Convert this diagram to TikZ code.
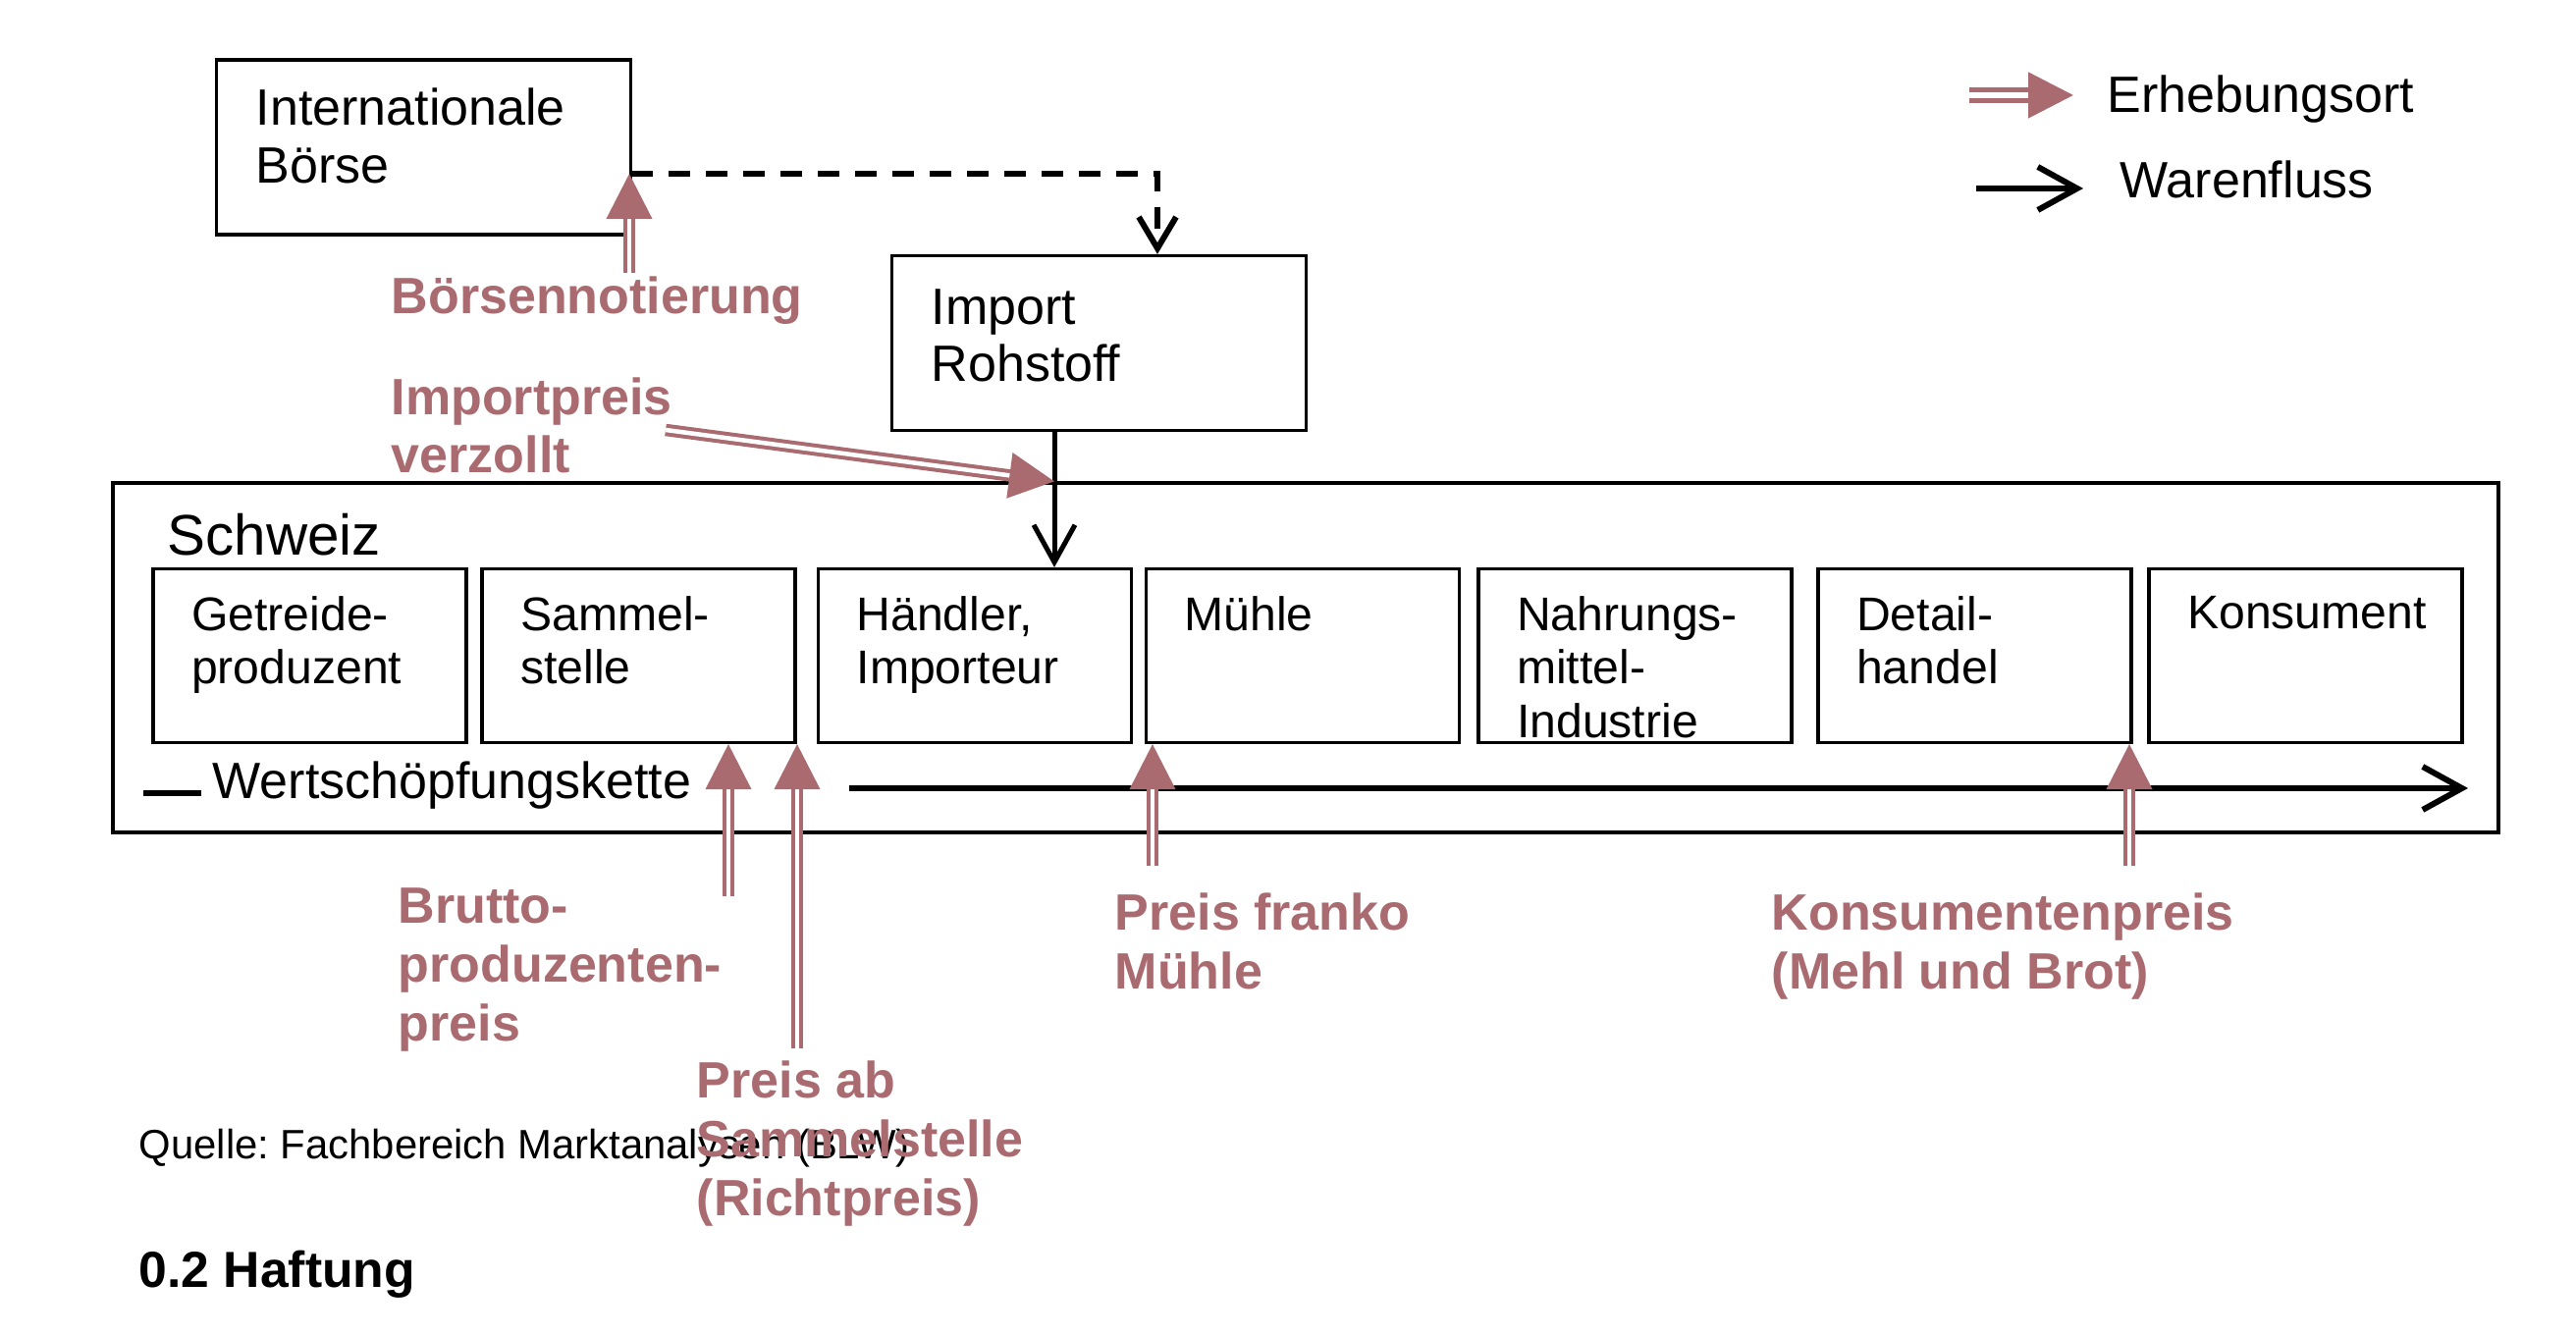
\documentclass[tikz,border=0pt]{standalone}
\usepackage{fontspec}
\setmainfont{Liberation Sans}
\usetikzlibrary{arrows.meta}
\definecolor{preisrot}{RGB}{170,107,112}
\frenchspacing

\begin{document}
\begin{tikzpicture}[x=1cm, y=1cm,
        every node/.style={font=\fontsize{14.8}{17}\selectfont},
        kasten/.style={draw, line width=0.9pt, minimum width=4.22cm, minimum height=1.78cm, inner sep=0},
        kastentext/.style={anchor=north west, xshift=0.41cm, yshift=-0.30cm, align=left, inner sep=0,
            font=\fontsize{14.8}{16.6}\selectfont},
        stufe/.style={draw, line width=0.9pt, minimum width=3.19cm, minimum height=1.77cm, inner sep=0},
        stufentext/.style={anchor=north west, xshift=0.4cm, yshift=-0.29cm, align=left, inner sep=0,
            font=\fontsize{13.7}{15.5}\selectfont},
        preis/.style={text=preisrot, font=\fontsize{14.8}{17}\selectfont\bfseries, align=left, anchor=west, inner sep=0},
        erhebung/.style={draw=preisrot, line width=0.04cm, double=white, double distance=0.045cm,
            -{Triangle[length=0.46cm, width=0.46cm]}},
        fluss/.style={line width=0.06cm, -{Straight Barb[length=0.4cm, width=0.44cm]}},
        zufluss/.style={line width=0.05cm, -{Straight Barb[length=0.38cm, width=0.42cm]}},
        boerselink/.style={line width=0.06cm, dash pattern=on 0.22cm off 0.16cm,
            -{Straight Barb[length=0.32cm, width=0.38cm]}}]
    \useasboundingbox (0,0) rectangle (26.24,13.6);

    % Ausland
    \node[kasten, label={[kastentext]north west:{Internationale\\Börse}}] (boerse) at (4.315,12.10) {};
    \node[kasten, label={[kastentext, yshift=-0.05cm]north west:{Import\\Rohstoff}}] (import) at (11.195,10.105) {};

    % Schweiz
    \node[draw, line width=0.9pt, minimum width=24.3cm, minimum height=3.56cm] (schweiz) at (13.30,6.90) {};
    \node[anchor=west, inner sep=0, font=\fontsize{16.6}{19}\selectfont] (schweiztext) at (1.70,8.15) {Schweiz};

    \node[stufe, label={[stufentext]north west:{Getreide-\\produzent}}] (getreide) at (3.155,6.92) {};
    \node[stufe, label={[stufentext]north west:{Sammel-\\stelle}}] (sammel) at (6.505,6.92) {};
    \node[stufe, label={[stufentext]north west:{Händler,\\Importeur}}] (haendler) at (9.93,6.92) {};
    \node[stufe, label={[stufentext]north west:{Mühle}}] (muehle) at (13.27,6.92) {};
    \node[stufe, label={[stufentext]north west:{Nahrungs-\\mittel-\\Industrie}}] (nahrung) at (16.655,6.92) {};
    \node[stufe, label={[stufentext]north west:{Detail-\\handel}}] (detail) at (20.115,6.92) {};
    \node[stufe, label={[stufentext]north west:{Konsument}}] (konsument) at (23.485,6.92) {};

    % Warenfluss
    \coordinate (boerseaus) at (6.43,11.83);
    \coordinate (importaus) at (10.74,9.22);
    \draw[boerselink] (boerseaus) -| ([xshift=0.595cm]import.north);
    \draw[zufluss] (importaus) -- (importaus |- haendler.north);

    \node[anchor=west, inner sep=0] (kette) at (2.16,5.60) {Wertschöpfungskette};
    \coordinate (kettestart) at (1.46,5.52);
    \coordinate (kettepfeil) at (8.65,5.57);
    \coordinate (ketteende) at (25.14,5.57);
    \draw[line width=0.06cm, shorten >=0.11cm] (kettestart) -- (kettestart -| kette.west);
    \draw[fluss] (kettepfeil) -- (ketteende);

    % Quelle und Titel
    \node[anchor=west, inner sep=0, font=\fontsize{11.9}{14}\selectfont] (quelle) at (1.41,1.90)
        {Quelle: Fachbereich Marktanalysen (BLW)};
    \node[anchor=west, inner sep=0, font=\fontsize{14.7}{17}\selectfont\bfseries] (haftung) at (1.41,0.62)
        {0.2 Haftung};

    % Erhebungsorte
    \node[preis] (notierung) at (3.98,10.54) {Börsennotierung};
    \node[preis] (importpreis) at (3.98,9.265) {Importpreis\\verzollt};
    \node[preis] (brutto) at (4.05,3.72) {Brutto-\\produzenten-\\preis};
    \node[preis] (preisab) at (7.09,1.95) {Preis ab\\Sammelstelle\\(Richtpreis)};
    \node[preis] (franko) at (11.35,4.01) {Preis franko\\Mühle};
    \node[preis] (konsumpreis) at (18.04,3.96) {Konsumentenpreis\\(Mehl und Brot)};

    \coordinate (notierungfuss) at (6.41,10.82);
    \coordinate (importpreisfuss) at (6.78,9.22);
    \coordinate (bruttofuss) at (7.42,4.47);
    \coordinate (sammelfuss) at (8.12,2.92);
    \coordinate (muehlefuss) at (11.74,4.78);
    \coordinate (konsumfuss) at (21.69,4.78);

    \draw[erhebung] (notierungfuss) -- (notierungfuss |- boerseaus);
    \draw[erhebung] (importpreisfuss) -- (importaus |- schweiz.north);
    \draw[erhebung] (bruttofuss) -- (bruttofuss |- sammel.south);
    \draw[erhebung] (sammelfuss) -- (sammelfuss |- sammel.south);
    \draw[erhebung] (muehlefuss) -- (muehlefuss |- muehle.south);
    \draw[erhebung] (konsumfuss) -- (konsumfuss |- detail.south);

    % Legende
    \node[anchor=west, inner sep=0] (erhebungsort) at (21.46,12.59) {Erhebungsort};
    \node[anchor=west, inner sep=0] (warenfluss) at (21.59,11.77) {Warenfluss};
    \coordinate (legende1) at (20.06,12.63);
    \coordinate (legende2) at (20.13,11.68);
    \draw[erhebung, line width=0.05cm, double distance=0.06cm, shorten >=0.34cm] (legende1) -- (legende1 -| erhebungsort.west);
    \draw[fluss, shorten >=0.37cm] (legende2) -- (legende2 -| warenfluss.west);
\end{tikzpicture}
\end{document}
